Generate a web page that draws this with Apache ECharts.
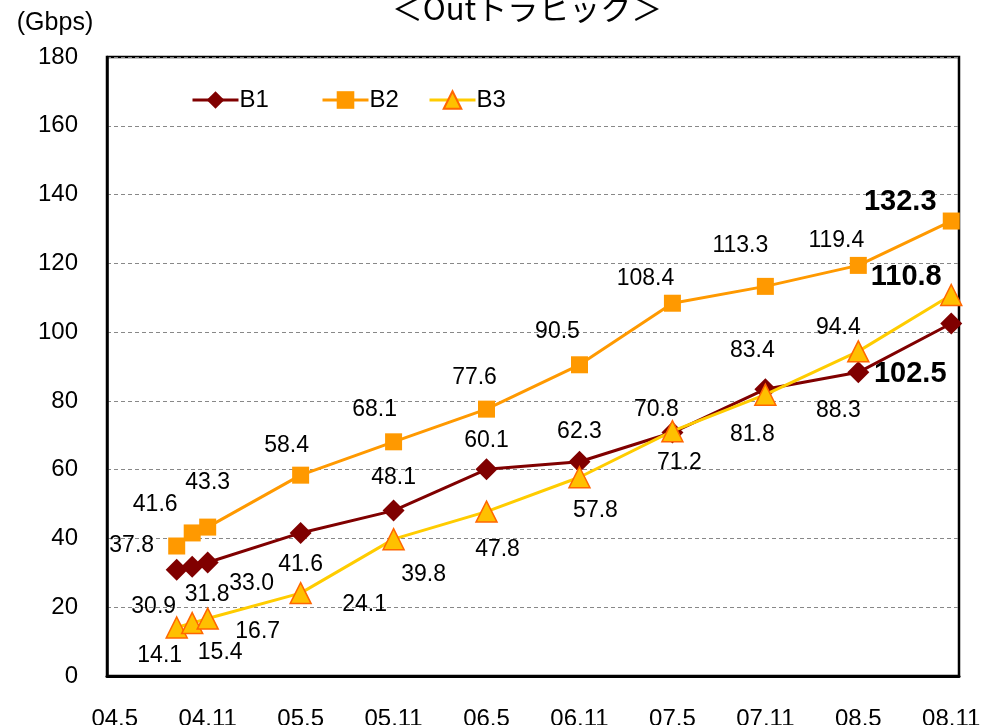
<!DOCTYPE html>
<html>
<head>
<meta charset="utf-8">
<script src="https://cdn.jsdelivr.net/npm/echarts@6/dist/echarts.min.js"></script>
<style>
  html, body { margin: 0; padding: 0; background: #fff; }
  #chart { width: 983px; height: 725px; }
</style>
</head>
<body>
<div id="chart"></div>
<script>
// 実測月
var months = ['04.9', '04.10', '04.11', '05.5', '05.11', '06.5', '06.11', '07.5', '07.11', '08.5', '08.11'];
var b1 = [30.9, 31.8, 33.0, 41.6, 48.1, 60.1, 62.3, 70.8, 83.4, 88.3, 102.5];
var b2 = [37.8, 41.6, 43.3, 58.4, 68.1, 77.6, 90.5, 108.4, 113.3, 119.4, 132.3];
var b3 = [14.1, 15.4, 16.7, 24.1, 39.8, 47.8, 57.8, 71.2, 81.8, 94.4, 110.8];
var tickLabels = ['04.5', '04.11', '05.5', '05.11', '06.5', '06.11', '07.5', '07.11', '08.5', '08.11'];

// ラベルの位置 (点からのずれ)
var b1Offsets = [[-23, 37], [15, 28], [44, 21], [0, 32], [0, -33], [0, -29], [0, -30], [-16, -23], [-13, -39], [-20, 38], [-41, 50]];
var b2Offsets = [[-45, 0], [-37, -28], [0, -44], [-14, -30], [-19, -32], [-12, -31], [-22, -33], [-27, -25], [-25, -41], [-22, -25], [-51, -19]];
var b3Offsets = [[-17, 28], [28, 30], [50, 13], [64, 12], [30, 36], [11, 38], [16, 33], [7, 32], [-13, 40], [-20, -24], [-45, -18]];

// 04.5 〜 08.11 の全月 (カテゴリ)
var allMonths = [];
for (var y = 4; y <= 8; y++) {
    for (var m = 1; m <= 12; m++) {
        if (y == 4 && m < 5) continue;
        if (y == 8 && m > 11) continue;
        allMonths.push('0' + y + '.' + m);
    }
}

var FONT = 'Liberation Sans, Arial, sans-serif';

function buildData(values, offsets) {
    var out = [];
    for (var i = 0; i < values.length; i++) {
        var last = i == values.length - 1;
        out.push({
            value: [months[i], values[i]],
            label: {
                offset: offsets[i],
                fontWeight: last ? 'bold' : 'normal',
                fontSize: last ? 29 : 23
            }
        });
    }
    return out;
}

var baseLabel = {
    show: true,
    position: 'inside',
    color: '#000',
    fontFamily: FONT,
    fontSize: 23,
    formatter: function (p) { return p.value[1].toFixed(1); }
};

function legendAt(name, left) {
    return {
        left: left,
        top: 83,
        itemWidth: 46,
        itemHeight: 22,
        itemGap: 0,
        lineStyle: { width: 3 },
        textStyle: { fontSize: 24, color: '#000', fontFamily: FONT, padding: [0, 0, 0, -4] },
        data: [name]
    };
}

var myChart = echarts.init(document.getElementById('chart'));
var option = {
    animation: false,
    backgroundColor: '#fff',
    textStyle: { fontFamily: FONT },
    graphic: [{
        type: 'text',
        x: 527,
        y: 8,
        style: {
            text: '＜Outトラヒック＞',
            font: '31px "Noto Sans CJK JP"',
            fill: '#000',
            align: 'center',
            verticalAlign: 'middle'
        }
    }, {
        type: 'text',
        x: 55,
        y: 23,
        style: {
            text: '(Gbps)',
            font: '25px ' + FONT,
            fill: '#000',
            align: 'center',
            verticalAlign: 'middle'
        }
    }],
    legend: [legendAt('B1', 186), legendAt('B2', 316), legendAt('B3', 423)],
    grid: {
        left: 107,
        right: 24,
        top: 57,
        bottom: 49,
        outerBoundsMode: 'none',
        show: true,
        borderColor: '#000',
        borderWidth: 2.5
    },
    xAxis: {
        type: 'category',
        data: allMonths,
        boundaryGap: true,
        axisLine: { lineStyle: { color: '#000', width: 3 } },
        axisTick: { show: false },
        axisLabel: {
            interval: 5,
            margin: 31,
            fontSize: 24,
            color: '#000',
            formatter: function (v) { return tickLabels.indexOf(v) >= 0 ? v : ''; }
        },
        splitLine: { show: false }
    },
    yAxis: {
        type: 'value',
        min: 0,
        max: 180,
        interval: 20,
        axisLine: { show: true, lineStyle: { color: '#000', width: 2.5 } },
        axisTick: { show: false },
        axisLabel: { margin: 29, fontSize: 24, color: '#000' },
        splitLine: { lineStyle: { color: '#888', type: [4, 3], width: 1 } }
    },
    series: [
        {
            name: 'B1',
            type: 'line',
            data: buildData(b1, b1Offsets),
            symbol: 'diamond',
            symbolSize: 22,
            showAllSymbol: true,
            lineStyle: { color: '#800000', width: 3 },
            itemStyle: { color: '#800000' },
            label: baseLabel,
            z: 3
        },
        {
            name: 'B2',
            type: 'line',
            data: buildData(b2, b2Offsets),
            symbol: 'rect',
            symbolSize: 17,
            showAllSymbol: true,
            lineStyle: { color: '#FF9900', width: 3 },
            itemStyle: { color: '#FF9900' },
            label: baseLabel,
            z: 2
        },
        {
            name: 'B3',
            type: 'line',
            data: buildData(b3, b3Offsets),
            symbol: 'triangle',
            symbolSize: [21, 21],
            showAllSymbol: true,
            lineStyle: { color: '#FFCC00', width: 3 },
            itemStyle: { color: '#FFC000', borderColor: '#FF6600', borderWidth: 1.5 },
            label: baseLabel,
            z: 4
        }
    ]
};
myChart.setOption(option);
</script>
</body>
</html>
